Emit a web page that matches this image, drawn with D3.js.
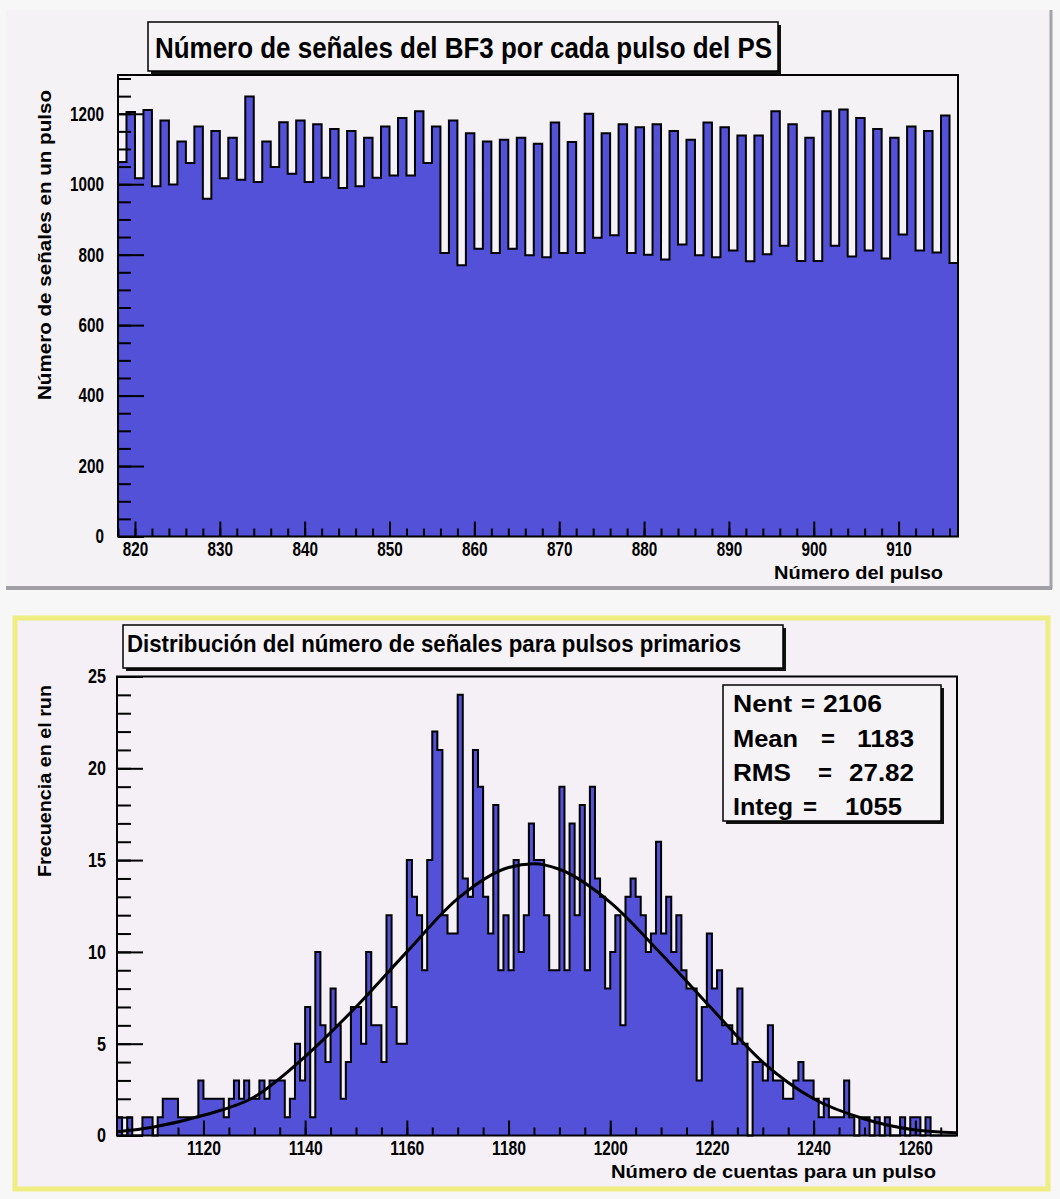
<!DOCTYPE html>
<html>
<head>
<meta charset="utf-8">
<script src="https://cdn.jsdelivr.net/npm/d3@7"></script>
<style>
  body { margin: 0; background: #f8f7f8; }
  svg { display: block; }
  text { font-family: 'Liberation Sans', Arial, sans-serif; font-weight: bold; fill: #000; }
</style>
</head>
<body>
<svg id="chart" width="1060" height="1199"></svg>
<script>
// --- top histogram: signals per PS pulse, one bin per pulse number ---
const pulseStart = 818;
const pulseCounts = [
  1063, 1205, 1017, 1211, 994, 1181, 999, 1121, 1060, 1164,
  959, 1151, 1017, 1132, 1013, 1249, 1006, 1121, 1049, 1176,
  1030, 1181, 1006, 1170, 1018, 1157, 989, 1151, 994, 1132,
  1018, 1164, 1025, 1188, 1025, 1207, 1060, 1164, 805, 1181,
  770, 1145, 817, 1121, 805, 1126, 817, 1132, 798, 1115,
  793, 1175, 805, 1120, 805, 1200, 848, 1145, 855, 1170,
  805, 1162, 800, 1170, 786, 1151, 829, 1126, 798, 1175,
  793, 1162, 812, 1138, 781, 1138, 801, 1207, 825, 1170,
  782, 1132, 782, 1207, 825, 1212, 795, 1188, 812, 1157,
  789, 1132, 857, 1164, 812, 1151, 806, 1195, 776
];
const pulseMajorTicks = [820, 830, 840, 850, 860, 870, 880, 890, 900, 910];
const signalMajorTicks = [0, 200, 400, 600, 800, 1000, 1200];

// --- bottom histogram: counts per pulse, bins of 1 starting at 1103 ---
const countStart = 1103;
const countFreq = [
  1, 0, 1, 0, 0, 1, 1, 0, 1, 2, 2, 2, 1, 1, 1, 1, 3, 2, 2, 2,
  2, 1, 2, 3, 2, 3, 2, 2, 3, 2, 3, 3, 3, 1, 2, 5, 3, 7, 1, 10,
  6, 4, 8, 6, 2, 4, 7, 7, 5, 10, 6, 6, 4, 12, 7, 5, 5, 15, 13, 12,
  9, 15, 22, 21, 12, 11, 11, 24, 14, 13, 21, 19, 13, 11, 18, 9, 12, 9, 15, 10,
  12, 17, 15, 15, 12, 9, 9, 19, 9, 17, 12, 18, 9, 19, 14, 13, 8, 10, 12, 6,
  13, 14, 13, 12, 10, 11, 16, 11, 13, 10, 12, 9, 8, 8, 3, 7, 11, 8, 9, 6,
  6, 5, 8, 5, 0, 4, 4, 3, 6, 3, 3, 2, 2, 3, 4, 3, 3, 2, 1, 2,
  1, 1, 1, 3, 1, 0, 1, 1, 0, 1, 0, 1, 0, 0, 1, 0, 1, 1, 0, 1,
  0, 0, 0, 0, 0
];
const countMajorTicks = [1120, 1140, 1160, 1180, 1200, 1220, 1240, 1260];
const freqMajorTicks = [0, 5, 10, 15, 20, 25];

// fitted curve, points
const fitX = [1103, 1110, 1120, 1130, 1140, 1150, 1160, 1170, 1180, 1185, 1190, 1200, 1210, 1220, 1230, 1240, 1250, 1260, 1268];
const fitY = [0.2, 0.45, 1.1, 2.1, 4.3, 7.0, 10.0, 12.9, 14.6, 14.8, 14.5, 12.7, 9.9, 6.9, 4.0, 2.0, 0.9, 0.3, 0.15];

const statsLabels = ['Nent', 'Mean', 'RMS', 'Integ'];
const statsValues = ['2106', '1183', '27.82', '1055'];

const FILL = '#5451d9';
const svg = d3.select('#chart');

// panels
svg.append('rect').attr('x', 6).attr('y', 10).attr('width', 1046).attr('height', 577)
  .attr('fill', '#f4f2f5');
svg.append('line').attr('x1', 1051).attr('x2', 1051).attr('y1', 10).attr('y2', 589)
  .attr('stroke', '#a3a3a8').attr('stroke-width', 3);
svg.append('line').attr('x1', 6).attr('x2', 1052).attr('y1', 588).attr('y2', 588)
  .attr('stroke', '#a0a0a4').attr('stroke-width', 4);
svg.append('rect').attr('x', 15).attr('y', 618).attr('width', 1033).attr('height', 571)
  .attr('fill', '#f4f0f5').attr('stroke', '#eeee82').attr('stroke-width', 5);

function squeeze(g, perChar) {
  g.selectAll('.tick text').each(function () {
    const t = d3.select(this);
    const s = t.text();
    if (s) t.attr('textLength', s.length * perChar).attr('lengthAdjust', 'spacingAndGlyphs');
  });
}

function styleAxis(g) {
  g.select('.domain').remove();
  g.selectAll('.tick line').attr('stroke', '#000').attr('stroke-width', 2);
  g.selectAll('.tick text').attr('font-size', 20).attr('font-family', null);
}

function drawHist(opts) {
  const { x, y, start, values } = opts;
  const g = svg.append('g');
  // filled bins
  g.selectAll('rect.bin')
    .data(values)
    .join('rect')
    .attr('class', 'bin')
    .attr('x', (d, i) => x(start + i))
    .attr('width', (d, i) => x(start + i + 1) - x(start + i) + 0.4)
    .attr('y', d => y(d))
    .attr('height', d => y(0) - y(d))
    .attr('fill', FILL)
    .attr('shape-rendering', 'crispEdges');

  // step outline
  const pts = [[start, 0]];
  values.forEach((v, i) => { pts.push([start + i, v], [start + i + 1, v]); });
  pts.push([start + values.length, 0]);
  g.append('path')
    .attr('d', d3.line().x(d => x(d[0])).y(d => y(d[1]))(pts))
    .attr('fill', 'none')
    .attr('stroke', '#000')
    .attr('stroke-width', 2);
  return g;
}

function drawFrame(f) {
  svg.append('rect').attr('x', f.x0).attr('y', f.y0)
    .attr('width', f.x1 - f.x0).attr('height', f.y1 - f.y0)
    .attr('fill', 'none').attr('stroke', '#000').attr('stroke-width', 2);
}

function titleBox(x0, y0, w, h, text, tx, ty, size, len) {
  svg.append('rect').attr('x', x0 + 3).attr('y', y0 + 3).attr('width', w).attr('height', h).attr('fill', '#111');
  svg.append('rect').attr('x', x0).attr('y', y0).attr('width', w).attr('height', h)
    .attr('fill', '#f5f3f6').attr('stroke', '#000').attr('stroke-width', 1.5);
  svg.append('text').attr('x', tx).attr('y', ty).attr('font-size', size)
    .attr('textLength', len).attr('lengthAdjust', 'spacingAndGlyphs').text(text);
}

// ================= top chart =================
const topFrame = { x0: 118, x1: 958, y0: 75, y1: 536.5 };
const xTop = d3.scaleLinear().domain([pulseStart, pulseStart + pulseCounts.length]).range([topFrame.x0, topFrame.x1]);
const yTop = d3.scaleLinear().domain([0, 1310]).range([topFrame.y1, topFrame.y0]);

drawHist({ x: xTop, y: yTop, start: pulseStart, values: pulseCounts });
drawFrame(topFrame);

const gxTop = svg.append('g').attr('transform', `translate(0,${topFrame.y1})`)
  .call(d3.axisBottom(xTop).tickValues(pulseMajorTicks).tickSize(-15).tickPadding(5).tickFormat(d3.format('d')));
styleAxis(gxTop); squeeze(gxTop, 8.5);
const gxTopMinor = svg.append('g').attr('transform', `translate(0,${topFrame.y1})`)
  .call(d3.axisBottom(xTop).tickValues(d3.range(818, 918, 2)).tickSize(-8).tickFormat(''));
styleAxis(gxTopMinor);

const gyTop = svg.append('g').attr('transform', `translate(${topFrame.x0},0)`)
  .call(d3.axisLeft(yTop).tickValues(signalMajorTicks).tickSize(-26).tickPadding(14).tickFormat(d3.format('d')));
styleAxis(gyTop); squeeze(gyTop, 8.5);
const gyTopMinor = svg.append('g').attr('transform', `translate(${topFrame.x0},0)`)
  .call(d3.axisLeft(yTop).tickValues(d3.range(0, 1310, 50)).tickSize(-13).tickFormat(''));
styleAxis(gyTopMinor);

svg.append('text').attr('x', 774).attr('y', 579).attr('font-size', 19)
  .attr('textLength', 169).attr('lengthAdjust', 'spacingAndGlyphs').text('Número del pulso');
svg.append('text').attr('transform', 'translate(51,245) rotate(-90)').attr('text-anchor', 'middle')
  .attr('font-size', 19).attr('textLength', 310).attr('lengthAdjust', 'spacingAndGlyphs')
  .text('Número de señales en un pulso');

titleBox(148, 22, 630, 49, 'Número de señales del BF3 por cada pulso del PS', 155, 58, 30, 617);

// ================= bottom chart =================
const botFrame = { x0: 117, x1: 957, y0: 676.5, y1: 1135.5 };
const xBot = d3.scaleLinear().domain([countStart, countStart + countFreq.length]).range([botFrame.x0, botFrame.x1 - 1]);
const yBot = d3.scaleLinear().domain([0, 25]).range([botFrame.y1, botFrame.y0]);

drawHist({ x: xBot, y: yBot, start: countStart, values: countFreq });

svg.append('path')
  .datum(fitX.map((d, i) => [d, fitY[i]]))
  .attr('d', d3.line().x(d => xBot(d[0])).y(d => yBot(d[1])).curve(d3.curveMonotoneX))
  .attr('fill', 'none').attr('stroke', '#000').attr('stroke-width', 3);

drawFrame(botFrame);

const gxBot = svg.append('g').attr('transform', `translate(0,${botFrame.y1})`)
  .call(d3.axisBottom(xBot).tickValues(countMajorTicks).tickSize(-15).tickPadding(5).tickFormat(d3.format('d')));
styleAxis(gxBot); squeeze(gxBot, 8.5);
const gxBotMinor = svg.append('g').attr('transform', `translate(0,${botFrame.y1})`)
  .call(d3.axisBottom(xBot).tickValues(d3.range(1105, 1268, 5)).tickSize(-8).tickFormat(''));
styleAxis(gxBotMinor);

const gyBot = svg.append('g').attr('transform', `translate(${botFrame.x0},0)`)
  .call(d3.axisLeft(yBot).tickValues(freqMajorTicks).tickSize(-26).tickPadding(11).tickFormat(d3.format('d')));
styleAxis(gyBot); squeeze(gyBot, 9);
const gyBotMinor = svg.append('g').attr('transform', `translate(${botFrame.x0},0)`)
  .call(d3.axisLeft(yBot).tickValues(d3.range(0, 26, 1)).tickSize(-14).tickFormat(''));
styleAxis(gyBotMinor);

svg.append('text').attr('x', 611).attr('y', 1178).attr('font-size', 19)
  .attr('textLength', 325).attr('lengthAdjust', 'spacingAndGlyphs').text('Número de cuentas para un pulso');
svg.append('text').attr('transform', 'translate(51,781) rotate(-90)').attr('text-anchor', 'middle')
  .attr('font-size', 19).attr('textLength', 192).attr('lengthAdjust', 'spacingAndGlyphs')
  .text('Frecuencia en el run');

titleBox(123, 625, 660, 43, 'Distribución del número de señales para pulsos primarios', 127, 652, 24, 614);

// stats box
svg.append('rect').attr('x', 726).attr('y', 688).attr('width', 218).attr('height', 136).attr('fill', '#111');
svg.append('rect').attr('x', 723).attr('y', 685).attr('width', 218).attr('height', 136)
  .attr('fill', '#f5f3f6').attr('stroke', '#000').attr('stroke-width', 1.5);

// where each part of a stats line sits: label, '=' and right-aligned value
const statsLayout = [
  { base: 712, labLen: 59, eq: 801, valEnd: 882, valLen: 59 },
  { base: 747, labLen: 65, eq: 821, valEnd: 914, valLen: 57 },
  { base: 781, labLen: 58, eq: 818, valEnd: 914, valLen: 65 },
  { base: 815, labLen: 60, eq: 803, valEnd: 902, valLen: 57 }
];
const stats = svg.append('g').attr('font-size', 24);
statsLabels.forEach((lab, i) => {
  const L = statsLayout[i];
  stats.append('text').attr('x', 733).attr('y', L.base)
    .attr('textLength', L.labLen).attr('lengthAdjust', 'spacingAndGlyphs').text(lab);
  stats.append('text').attr('x', L.eq).attr('y', L.base).text('=');
  stats.append('text').attr('x', L.valEnd).attr('y', L.base).attr('text-anchor', 'end')
    .attr('textLength', L.valLen).attr('lengthAdjust', 'spacingAndGlyphs').text(statsValues[i]);
});
</script>
</body>
</html>
